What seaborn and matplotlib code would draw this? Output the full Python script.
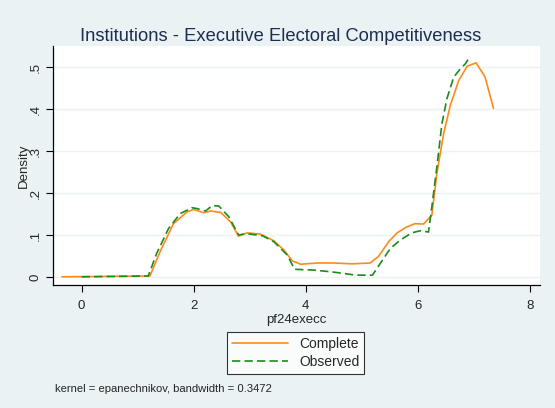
import matplotlib
matplotlib.use("Agg")
from matplotlib import pyplot as plt
from matplotlib.lines import Line2D
import seaborn as sns
import pandas as pd

# kernel density curves
complete_x = [-0.35, 1.22, 1.40, 1.64, 1.88, 2.00, 2.18, 2.30, 2.48, 2.66, 2.80, 2.95,
              3.19, 3.43, 3.61, 3.76, 3.91, 4.20, 4.50, 4.82, 5.15, 5.30, 5.48, 5.63,
              5.80, 5.95, 6.10, 6.25, 6.34, 6.46, 6.58, 6.73, 6.88, 7.04, 7.20, 7.35]
complete_y = [0.0, 0.002, 0.060, 0.127, 0.155, 0.161, 0.153, 0.157, 0.154, 0.131, 0.097, 0.105,
              0.102, 0.086, 0.064, 0.038, 0.030, 0.033, 0.033, 0.031, 0.033, 0.049, 0.084, 0.105,
              0.119, 0.127, 0.126, 0.147, 0.247, 0.342, 0.410, 0.469, 0.503, 0.511, 0.477, 0.402]

observed_x = [0.0, 1.19, 1.34, 1.55, 1.76, 1.97, 2.06, 2.21, 2.33, 2.45, 2.63, 2.80, 2.95,
              3.23, 3.43, 3.67, 3.80, 4.15, 4.45, 4.68, 4.89, 5.19, 5.33, 5.51, 5.69,
              5.89, 6.04, 6.19, 6.25, 6.34, 6.43, 6.52, 6.64, 6.76, 6.85, 6.93]
observed_y = [0.0, 0.002, 0.056, 0.115, 0.151, 0.165, 0.163, 0.157, 0.170, 0.169, 0.143, 0.100, 0.103,
              0.098, 0.084, 0.052, 0.018, 0.016, 0.012, 0.008, 0.004, 0.004, 0.032, 0.068, 0.088,
              0.105, 0.110, 0.107, 0.167, 0.263, 0.366, 0.426, 0.477, 0.497, 0.509, 0.527]

x_ticks = [0, 2, 4, 6, 8]
y_ticks = [0, 0.1, 0.2, 0.3, 0.4, 0.5]
y_labels = ['0', '.1', '.2', '.3', '.4', '.5']

bg = '#EAF2F3'
orange = '#FF8A1C'
green = '#1C8A1C'

sns.set_style('white')
plt.rcParams['font.family'] = ['Liberation Sans', 'DejaVu Sans']

fig = plt.figure(figsize=(5.55, 4.08), dpi=100, facecolor=bg)
ax = fig.add_axes([0.0955, 0.301, 0.8775, 0.586])
ax.set_facecolor('white')

df_c = pd.DataFrame({'x': complete_x, 'y': complete_y})
df_o = pd.DataFrame({'x': observed_x, 'y': observed_y})
sns.lineplot(data=df_c, x='x', y='y', ax=ax, color=orange, linewidth=1.2, estimator=None, sort=False)
sns.lineplot(data=df_o, x='x', y='y', ax=ax, color=green, linewidth=1.2, estimator=None, sort=False,
             linestyle=(0, (5, 2.5)))

ax.set_xlim(-0.51, 8.18)
ax.set_ylim(-0.02, 0.551)
ax.set_xticks(x_ticks)
ax.set_xticklabels([str(t) for t in x_ticks], fontsize=9.5)
ax.set_yticks(y_ticks)
ax.set_yticklabels(y_labels, fontsize=9.5, rotation=90, va='center')
ax.grid(axis='y', color=bg, linewidth=1.0)
ax.grid(axis='x', visible=False)
for s in ['top', 'right']:
    ax.spines[s].set_visible(False)
for s in ['left', 'bottom']:
    ax.spines[s].set_color('black')
    ax.spines[s].set_linewidth(0.9)
ax.tick_params(axis='x', direction='out', length=5, width=0.8, color='black', pad=6, bottom=True)
ax.tick_params(axis='y', direction='out', length=5, width=0.8, color='black', pad=3, left=True)

ax.set_xlabel('pf24execc', fontsize=9.5, labelpad=1)
ax.set_ylabel('Density', fontsize=9.5, labelpad=0)
ax.set_title('Institutions - Executive Electoral Competitiveness', fontsize=13.2,
             color='#1E2D50', pad=4, x=0.467)

handles = [Line2D([], [], color=orange, linewidth=1.2),
           Line2D([], [], color=green, linewidth=1.2, linestyle=(0, (5, 2.5)))]
leg = fig.legend(handles, ['Complete', 'Observed'], loc='center', bbox_to_anchor=(0.533, 0.135),
                 fontsize=10, frameon=True, fancybox=False, edgecolor='black',
                 handlelength=4.0, borderpad=0.35, labelspacing=0.3)
leg.get_frame().set_linewidth(0.8)

fig.text(0.099, 0.046, 'kernel = epanechnikov, bandwidth = 0.3472', fontsize=8.1, va='center')

fig.savefig('out.png', dpi=100, facecolor=bg)
